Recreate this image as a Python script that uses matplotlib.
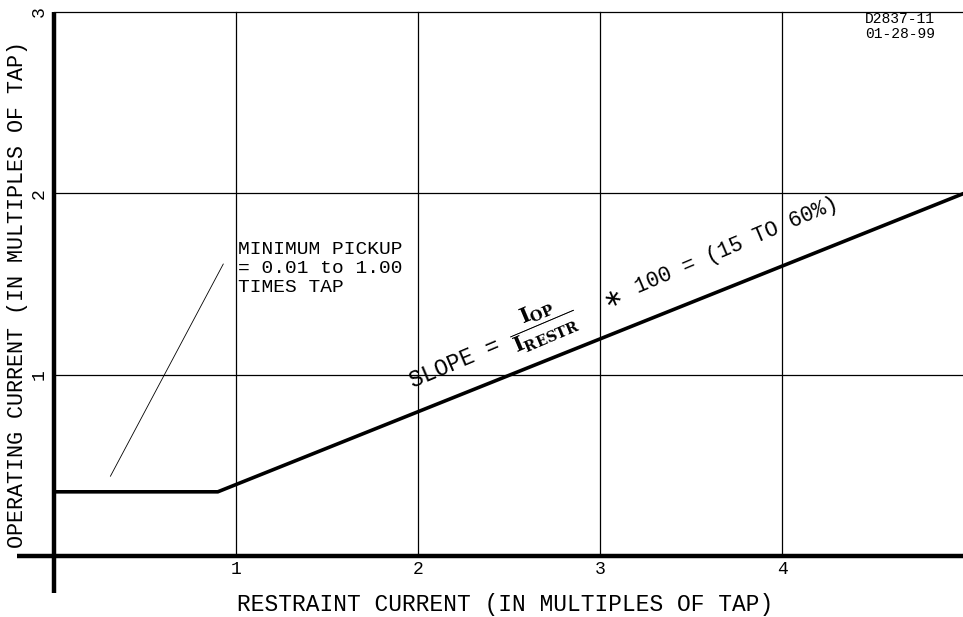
import numpy as np
import matplotlib.pyplot as plt

plt.rcParams['mathtext.fontset'] = 'dejavuserif'

# operating characteristic (multiples of tap)
curve_x = [0.0, 0.9, 5.0]
curve_y = [0.354, 0.354, 2.0]

# leader line pointing at the minimum pickup section
leader_x = [0.31, 0.93]
leader_y = [0.44, 1.61]

x_ticks = [1, 2, 3, 4]
y_ticks = [1, 2, 3]

fig = plt.figure(figsize=(9.63, 6.17), dpi=100)
ax = fig.add_axes([0, 0, 1, 1])
ax.set_xlim(-54 / 182, 909 / 182)
ax.set_ylim(-61 / 181.33, 556 / 181.33)
ax.axis('off')

font = dict(family='Liberation Mono', color='black')

# grid
for xv in x_ticks:
    ax.plot([xv, xv], [0, 3], color='black', lw=0.9)
for yv in y_ticks:
    ax.plot([0, 5], [yv, yv], color='black', lw=0.9)

# main axes (extend past the origin)
ax.plot([-0.203, 5.0], [0, 0], color='black', lw=3.2, solid_capstyle='butt')
ax.plot([0, 0], [-0.204, 3.0], color='black', lw=3.2, solid_capstyle='butt')

# characteristic
ax.plot(curve_x, curve_y, color='black', lw=2.6, solid_joinstyle='miter')
ax.plot(leader_x, leader_y, color='black', lw=0.6)

for xv in x_ticks:
    ax.text(xv, -0.075, str(xv), ha='center', va='center', fontsize=13, **font)
for yv in y_ticks:
    ax.text(-0.08, yv, str(yv), ha='center', va='center', fontsize=13,
            rotation=90, **font)

ax.text(2.48, -0.27, 'RESTRAINT CURRENT (IN MULTIPLES OF TAP)',
        ha='center', va='center', fontsize=16.5, **font)
ax.text(-0.2, 1.44, 'OPERATING CURRENT (IN MULTIPLES OF TAP)',
        ha='center', va='center', fontsize=15.6, rotation=90, **font)

ax.text(1.01, 1.735, 'MINIMUM PICKUP\n= 0.01 to 1.00\nTIMES TAP',
        ha='left', va='top', fontsize=14, linespacing=1.12, **font)

ax.text(4.84, 3.0, 'D2837-11\n01-28-99', ha='right', va='top',
        fontsize=10.5, linespacing=1.1, **font)

# slope annotation, written along the sloped segment
ax.text(1.97, 0.926, 'SLOPE =', ha='left', va='baseline', fontsize=16.5,
        rotation=23, rotation_mode='anchor', **font)
ax.text(2.681, 1.279, r'$\dfrac{\mathbf{I_{OP}}}{\mathbf{I_{RESTR}}}$',
        ha='center', va='center', fontsize=15, color='black',
        rotation=23, rotation_mode='anchor')
ax.text(3.04, 1.37, '∗', ha='left', va='baseline', fontsize=17,
        rotation=23, rotation_mode='anchor', family='DejaVu Sans',
        color='black')
ax.text(3.21, 1.45, '100 = (15 TO 60%)', ha='left', va='baseline',
        fontsize=15.5, rotation=23, rotation_mode='anchor', **font)

fig.savefig('out.png', dpi=100)
